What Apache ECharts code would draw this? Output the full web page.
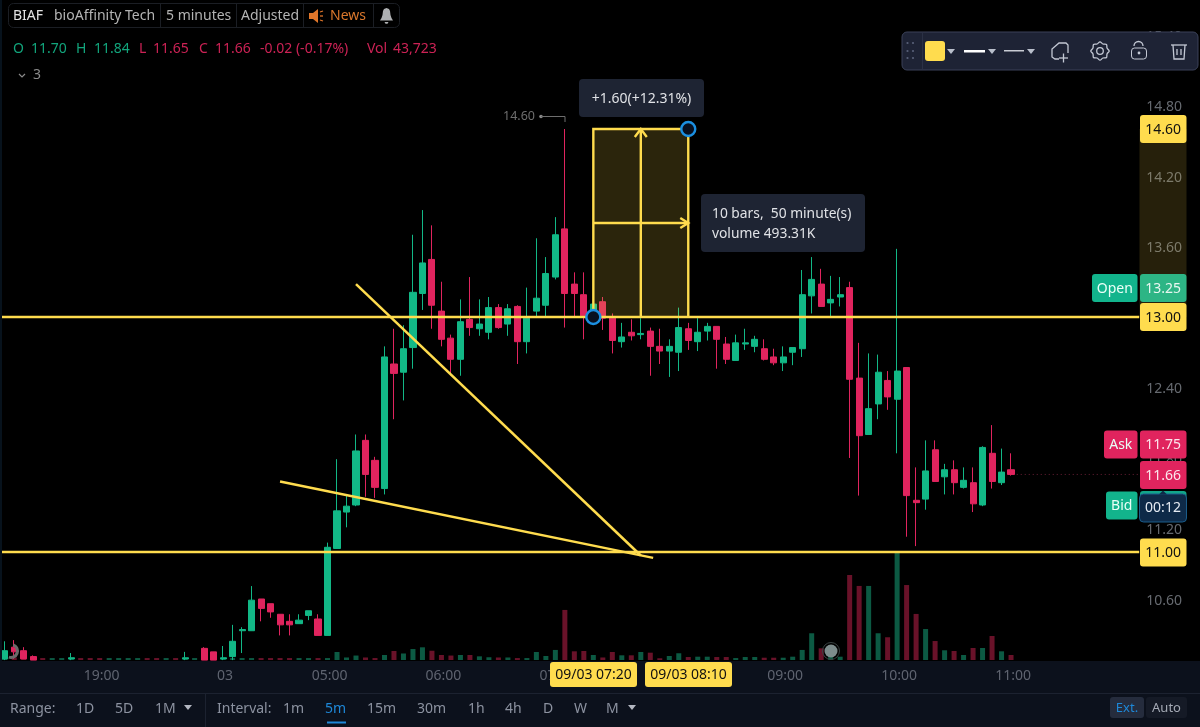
<!DOCTYPE html>
<html>
<head>
<meta charset="utf-8">
<style>html,body{margin:0;padding:0;background:#000}#c{width:1200px;height:727px}</style>
<script src="https://cdn.jsdelivr.net/npm/echarts@6/dist/echarts.min.js"></script>
</head>
<body>
<div id="c"></div>
<script>
// ---- data (index = 5-minute bar) ----
const opens = [
 10.09,10.19,10.16,10.11,null,null,null,10.09,null,null,
 null,null,null,null,null,null,null,null,null,10.09,
 null,10.18,10.15,10.09,10.11,10.33,10.33,10.60,10.56,10.47,
 10.41,10.39,10.46,10.43,10.29,11.03,11.34,11.40,11.95,11.78,
 11.54,12.60,12.53,12.74,13.20,13.49,13.05,12.82,12.64,12.98,
 12.90,12.87,13.08,12.94,13.09,12.79,13.05,13.10,13.34,13.75,
 13.28,13.19,13.00,13.13,12.99,12.79,12.87,12.85,12.88,12.75,
 12.71,12.70,12.90,12.79,12.88,12.92,12.77,12.63,12.77,12.75,
 12.73,12.66,12.61,12.70,12.73,13.18,13.28,13.12,13.17,13.25,
 12.48,12.00,12.26,12.46,12.30,12.57,11.44,11.45,11.87,11.64,
 11.70,11.55,11.59,11.40,11.84,11.59,11.70];
const closes = [
 10.16,10.15,10.09,10.08,null,null,null,10.10,null,null,
 null,null,null,null,null,null,null,null,null,10.10,
 null,10.08,10.08,10.10,10.24,10.34,10.59,10.52,10.49,10.38,
 10.38,10.42,10.50,10.29,11.04,11.35,11.39,11.86,11.66,11.55,
 12.66,12.52,12.73,13.21,13.46,13.10,12.81,12.64,12.96,12.91,
 12.94,13.08,12.91,13.07,12.79,12.99,13.16,13.37,13.70,13.20,
 13.20,13.01,13.11,12.99,12.80,12.83,12.84,12.86,12.75,12.71,
 12.75,12.91,12.80,12.87,12.92,12.81,12.64,12.78,12.78,12.81,
 12.64,12.61,12.66,12.74,13.19,13.32,13.09,13.15,13.19,12.47,
 11.99,12.22,12.53,12.32,12.54,11.48,11.42,11.69,11.60,11.70,
 11.59,11.61,11.41,11.89,11.60,11.68,11.66];
const lows = [
 10.08,10.09,10.09,10.08,null,null,null,10.08,null,null,
 null,null,null,null,null,null,null,null,null,10.08,
 null,10.08,10.08,10.08,10.08,10.14,10.33,10.41,10.44,10.29,
 10.29,10.39,10.42,10.29,10.29,11.03,11.21,11.39,11.47,11.46,
 11.49,12.13,12.29,12.56,13.06,12.90,12.75,12.52,12.50,12.84,
 12.84,12.81,12.90,12.84,12.60,12.69,13.00,13.00,13.32,12.91,
 13.00,12.81,12.98,12.89,12.69,12.74,12.80,12.81,12.50,12.60,
 12.49,12.54,12.72,12.71,12.80,12.56,12.60,12.63,12.72,12.70,
 12.63,12.59,12.54,12.59,12.66,13.03,13.09,13.00,13.09,11.80,
 11.48,12.00,12.13,12.21,11.84,11.13,11.05,11.36,11.60,11.49,
 11.49,11.54,11.34,11.39,11.54,11.57,11.65];
const highs = [
 10.24,10.25,10.19,10.12,null,null,null,10.14,null,null,
 null,null,null,null,null,null,null,null,null,10.15,
 null,10.19,10.15,10.20,10.38,10.36,10.71,10.60,10.56,10.47,
 10.47,10.47,10.50,10.47,11.08,11.79,11.48,12.00,12.00,11.81,
 12.75,12.90,12.93,13.70,13.91,13.78,13.30,12.85,13.15,13.34,
 13.15,13.17,13.11,13.11,13.10,13.25,13.67,13.51,13.85,14.60,
 13.38,13.38,13.11,13.17,13.03,12.95,12.98,12.99,12.91,12.90,
 12.81,13.08,12.95,12.99,12.95,12.92,12.83,12.85,12.90,12.84,
 12.81,12.73,12.75,12.74,13.40,13.51,13.41,13.35,13.34,13.30,
 12.78,12.69,12.68,12.54,13.58,12.57,11.72,11.95,11.95,11.75,
 11.78,11.72,11.72,11.90,12.08,11.88,11.84];
// volume in thousands
const volumes = [
 22,22,22,22,17,17,17,17,17,17,
 17,17,17,17,17,17,17,17,17,17,
 17,22,22,17,17,17,17,17,17,17,
 17,17,17,17,17,70,22,39,22,17,
 44,79,57,96,111,81,44,39,44,44,
 32,24,22,22,17,17,70,35,88,438,
 76,79,44,22,70,41,41,70,64,15,
 35,59,26,29,29,26,26,17,26,26,
 20,20,20,29,88,234,102,105,29,744,
 648,648,234,199,945,656,403,271,166,85,
 79,44,105,105,210,76,44];
const volumeDirs = [
 "u","d","d","d","d","u","u","u","d","d",
 "d","u","u","u","u","d","d","u","d","u",
 "u","d","d","u","u","u","u","d","d","d",
 "d","u","u","d","u","u","u","u","d","d",
 "u","d","u","u","u","d","d","d","u","d",
 "u","u","d","u","d","u","u","u","u","d",
 "d","d","u","d","d","u","d","u","d","d",
 "u","u","d","u","u","d","d","u","u","u",
 "d","d","u","u","u","u","d","u","u","d",
 "d","u","u","d","u","d","d","u","d","u",
 "d","u","d","u","d","u","d"];
const tickLabels = { 10:"19:00", 23:"03", 34:"05:00", 46:"06:00", 58:"07:00", 70:"08:00", 82:"09:00", 94:"10:00", 106:"11:00" };
const priceTicks = [10.6, 11.2, 11.8, 12.4, 13.0, 13.6, 14.2, 14.8, 15.4];
const levels = [13.0, 11.0];
const trendA = [[37, 13.28], [67, 10.97]];
const trendB = [[29, 11.60], [68.3, 10.95]];
const lastPriceLine = [[106.6, 11.66], [119.5, 11.66]];
const measure = [62, 13.0, 72, 14.6];

const BAR_SLOTS = 120;
const YEL = "#FFDC4E", UP = "#12B886", DOWN = "#E0245E", DUP = "#0C5A43", DDOWN = "#691229";
const FONT = '"Noto Sans"';
const categories = Array.from({ length: BAR_SLOTS }, (_, i) => tickLabels[i] || String(i));

const T = (text, x, y, fill, size, align) => ({ type: "text", z: 100, x, y: y + 1,
  style: { text, fill, font: (size || 14) + "px " + FONT, align: align || "left", verticalAlign: "middle" } });
const R = (x, y, width, height, fill, r, stroke, z) => ({ type: "rect", z: z || 100,
  shape: { x, y, width, height, r: r || 0 }, style: { fill, stroke: stroke || null, lineWidth: stroke ? 1 : 0 } });
const L = (points, stroke, lineWidth) => ({ type: "polyline", z: 101, shape: { points },
  style: { stroke, lineWidth: lineWidth || 1.3, fill: null } });
const C = (cx, cy, r, fill, stroke, lineWidth) => ({ type: "circle", z: 101, shape: { cx, cy, r },
  style: { fill: fill || null, stroke: stroke || null, lineWidth: lineWidth || 1 } });
const Tri = (x, y, fill) => ({ type: "polygon", z: 101, shape: { points: [[x - 4, y - 2], [x + 4, y - 2], [x, y + 3]] }, style: { fill } });

const g = [];
// bottom strips
g.push(R(0, 661, 1200, 66, "#0C111C", 0, null, 50));
g.push(R(0, 693, 1200, 1, "#1C2230", 0, null, 51));
g.push(R(205, 694, 1, 33, "#1C2230", 0, null, 51));
g.push(R(0, 0, 2, 661, "#07121C", 0, null, 51));
// header
g.push(R(8.5, 3.5, 391, 24, "#000", 5, "#1B1E24"));
[160, 236, 303, 373].forEach(x => g.push(R(x, 4, 1, 23, "#1B1E24")));
g.push(T("BIAF", 13, 15, "#E3E3E3", 14));
g.push(T("bioAffinity Tech", 54, 15, "#B4B4B4", 14));
g.push(T("5 minutes", 166, 15, "#B4B4B4", 14));
g.push(T("Adjusted", 241, 15, "#B4B4B4", 14));
g.push({ type: "polygon", z: 101, shape: { points: [[309, 13], [313, 13], [318, 9], [318, 23], [313, 19], [309, 19]] }, style: { fill: "#E0762A" } });
g.push(L([[320, 12], [323, 11]], "#E0762A", 1.3), L([[320, 16], [323, 16]], "#E0762A", 1.3), L([[320, 20], [323, 21]], "#E0762A", 1.3));
g.push(T("News", 330, 15, "#D9772C", 14));
g.push({ type: "polygon", z: 101, shape: { points: [[386.5, 8], [384, 9], [383, 11], [382.5, 15], [381.5, 18], [380, 20.5], [393, 20.5], [391.5, 18], [390.5, 15], [390, 11], [389, 9]] }, style: { fill: "#AEB0B2" } });
g.push({ type: "polygon", z: 101, shape: { points: [[384.5, 22], [388.5, 22], [387.5, 23.7], [385.5, 23.7]] }, style: { fill: "#AEB0B2" } });
// OHLC
const ohlc = [["O", 13, UP], ["11.70", 31, UP], ["H", 76, UP], ["11.84", 94, UP], ["L", 139, DOWN], ["11.65", 153, DOWN],
  ["C", 199, DOWN], ["11.66", 215, DOWN], ["-0.02 (-0.17%)", 260, DOWN], ["Vol", 367, DOWN], ["43,723", 393, DOWN]];
ohlc.forEach(o => g.push(T(o[0], o[1], 48.5, o[2] === UP ? "#12A57C" : "#CC2255", 14)));
g.push(L([[19, 74], [22, 77], [25, 74]], "#8A8A8A", 1.2));
g.push(T("3", 33, 74.5, "#8A8A8A", 14));
// toolbar
g.push(R(902, 32, 296, 38, "#1E2335", 5, "#3A4158"));
[907.5, 913].forEach(x => [43, 51, 58].forEach(y => g.push(C(x, y, 1.1, "#59617A"))));
g.push(R(922, 33, 1, 36, "#2B3145"));
g.push(R(925, 41, 20, 20, YEL, 3));
g.push(Tri(951, 51, "#B9BFCC"));
g.push(R(964, 50, 21, 2.5, "#FFFFFF"));
g.push(Tri(992, 51, "#B9BFCC"));
g.push(R(1004, 50, 20, 1.5, "#C9CCD4"));
g.push(Tri(1031, 51, "#B9BFCC"));
g.push(L([[1059, 59], [1055, 59], [1052, 57], [1052, 49], [1059, 43], [1066, 43], [1068, 45], [1068, 53]], "#C3C8D4"));
g.push(L([[1059, 58], [1068, 58]], "#C3C8D4"), L([[1063.5, 53.5], [1063.5, 62.5]], "#C3C8D4"));
// gear outline: alternating radii around the icon centre
const gearPts = [];
for (let k = 0; k < 16; k++) {
  const a = k * Math.PI / 8, rr = k % 2 ? 7.6 : 9.2;
  gearPts.push([1100 + rr * Math.cos(a), 51 + rr * Math.sin(a)]);
}
g.push({ type: "polygon", z: 101, shape: { points: gearPts, smooth: 0.35 }, style: { fill: null, stroke: "#C3C8D4", lineWidth: 1.3 } });
g.push(C(1100, 51, 3.3, null, "#C3C8D4", 1.3));
g.push(R(1131.5, 48, 15, 11, "#1E2335", 3, "#C3C8D4"));
g.push({ type: "arc", z: 101, shape: { cx: 1138.5, cy: 46, r: 4.5, startAngle: Math.PI, endAngle: Math.PI * 2 }, style: { stroke: "#C3C8D4", fill: null, lineWidth: 1.3 } });
g.push(C(1139, 53, 1.4, "#C3C8D4"));
g.push(L([[1171, 45], [1187, 45]], "#C3C8D4"), L([[1173, 45], [1174, 59], [1184, 59], [1185, 45]], "#C3C8D4"));
g.push(L([[1177, 49], [1177, 55]], "#C3C8D4"), L([[1181, 49], [1181, 55]], "#C3C8D4"));
// callouts
g.push(R(579, 79, 125, 38, "#1E2433", 4));
g.push(T("+1.60(+12.31%)", 641.5, 98, "#E0E2E6", 14, "center"));
g.push(R(701, 194, 164, 58, "#1E2433", 4));
g.push(T("10 bars,  50 minute(s)", 712, 213.5, "#E0E2E6", 13.8));
g.push(T("volume 493.31K", 712, 233, "#E0E2E6", 13.8));
// high marker
g.push(T("14.60", 503, 115.5, "#6E6E6E", 12.5));
g.push(C(541, 116.5, 1.8, "#8A8A8A"));
g.push(L([[541, 116.5], [565, 116.5], [565, 122]], "#6E6E6E", 1));
// price tags
const tag = (txt, cy, fill, fg) => {
  g.push(R(1140, cy - 14, 46.5, 28, fill, 3));
  g.push(T(txt, 1163.2, cy, fg, 14, "center"));
};
const pill = (txt, x, cy, fill) => {
  g.push(R(x, cy - 14, 1137.5 - x, 28, fill, 3));
  g.push(T(txt, (x + 1137.5) / 2, cy, "#E9FFF7", 14, "center"));
};
tag("14.60", 129, YEL, "#111");
pill("Open", 1092, 288, "#12B48C"); tag("13.25", 288, "#2DB585", "#E8F6F0");
tag("13.00", 317, YEL, "#111");
pill("Ask", 1104, 444.5, "#E0245E"); tag("11.75", 444.5, "#E0245E", "#FBE6EC");
tag("11.66", 475, "#E0245E", "#FBE6EC");
pill("Bid", 1106, 505.5, "#12B48C");
g.push(R(1140, 491, 46.5, 10, "#12A58A", 3));
g.push(R(1139.5, 494, 47, 28, "#0E2A48", 4, "#1A5C8A"));
g.push({ type: "polygon", z: 101, shape: { points: [[1159, 494.5], [1163, 490.5], [1167, 494.5]] }, style: { fill: "#0E2A48" } });
g.push(T("00:12", 1163, 507.5, "#E4EAF2", 14, "center"));
tag("11.00", 552.5, YEL, "#111");
// time tags
g.push(R(550, 662, 87, 25, YEL, 3)); g.push(T("09/03 07:20", 593.5, 674, "#111", 14, "center"));
g.push(R(645, 662, 87, 25, YEL, 3)); g.push(T("09/03 08:10", 688.5, 674, "#111", 14, "center"));
// bottom controls
const bt = [["Range:", 10], ["1D", 76], ["5D", 115], ["1M", 155], ["Interval:", 217], ["1m", 283], ["15m", 367], ["30m", 417], ["1h", 468], ["4h", 505], ["D", 543], ["W", 574], ["M", 606]];
bt.forEach(b => g.push(T(b[0], b[1], 708, "#8C92A0", 14)));
g.push(T("5m", 325, 708, "#1E88D8", 14));
g.push(R(327, 721.5, 19, 2, "#1E88D8"));
g.push(Tri(188, 707, "#B4B8C2"), Tri(632, 707, "#B4B8C2"));
g.push(R(1110, 697, 34, 21, "#252C3D", 3)); g.push(T("Ext.", 1127, 707, "#1E88D8", 13, "center"));
g.push(R(1146, 697, 41, 21, "#151A26", 3)); g.push(T("Auto", 1166.5, 707, "#A4A9B4", 13, "center"));
// loading spinners
g.push({ type: "arc", z: 101, shape: { cx: 11, cy: 651, r: 6.5, startAngle: -1.2, endAngle: 1.9 }, style: { stroke: "#6A6A6A", fill: null, lineWidth: 3 } });
g.push(C(831, 651, 6.5, "#7D8C8C"));
g.push(C(831, 651, 8.5, null, "#3A4242", 1));

const chart = echarts.init(document.getElementById("c"), null, { renderer: "canvas" });
const GRID_W = 1139.2;
const PRICE_MIN = 10.0723, PRICE_MAX = 15.6979;
const lineSeries = (data, extra) => Object.assign({
  type: "line", xAxisIndex: 2, yAxisIndex: 0, data, symbol: "none", silent: true, animation: false, z: 5,
  lineStyle: { color: YEL, width: 2.5 } }, extra || {});

const measureItem = function (params, api) {
  const x1 = api.value(0), p1 = api.value(1), x2 = api.value(2), p2 = api.value(3);
  const a = api.coord([x1, p1]), b = api.coord([x2, p2]);
  const mx = (a[0] + b[0]) / 2, my = (a[1] + b[1]) / 2;
  const ln = (pts, w) => ({ type: "polyline", shape: { points: pts }, style: { stroke: YEL, lineWidth: w || 2.4, fill: null } });
  const ring = (p) => ({ type: "circle", shape: { cx: p[0], cy: p[1], r: 7 }, style: { fill: "#081020", stroke: "#1B8FE0", lineWidth: 2.4 } });
  return { type: "group", children: [
    { type: "rect", shape: { x: a[0], y: b[1], width: b[0] - a[0], height: a[1] - b[1] }, style: { fill: "rgba(255,217,74,0.17)" } },
    { type: "rect", shape: { x: 1139.5, y: b[1], width: 47, height: a[1] - b[1] }, style: { fill: "rgba(255,217,74,0.15)" } },
    ln([[a[0], a[1]], [a[0], b[1]], [b[0], b[1]], [b[0], a[1]]]),
    ln([[mx, a[1]], [mx, b[1]]]),
    ln([[a[0], my], [b[0], my]]),
    ln([[mx - 6, b[1] + 8], [mx, b[1]], [mx + 6, b[1] + 8]]),
    ln([[b[0] - 8, my - 5], [b[0], my], [b[0] - 8, my + 5]]),
    ring(a), ring(b)
  ] };
};

chart.setOption({
  animation: false,
  backgroundColor: "#000",
  textStyle: { fontFamily: FONT },
  tooltip: { show: false },
  grid: [
    { left: 0, top: 0, width: GRID_W, height: 661 },
    { left: 0, top: 540, width: GRID_W, height: 120 },
    { left: 0, top: 1.6, width: GRID_W, height: 661 }
  ],
  xAxis: [
    { type: "category", gridIndex: 0, data: categories, boundaryGap: true,
      axisLine: { show: false }, axisTick: { show: false }, splitLine: { show: false },
      z: 60,
      axisLabel: { show: true, color: "#5F6470", fontSize: 14, fontFamily: FONT, margin: 8, padding: [0, 0, 0, 4],
        interval: (i) => tickLabels[i] !== undefined,
        formatter: (v) => /:|^03$/.test(v) ? v : "" } },
    { type: "category", gridIndex: 1, data: categories, show: false, boundaryGap: true },
    { type: "value", gridIndex: 0, min: -0.5, max: BAR_SLOTS - 0.5, show: false, splitLine: { show: false } },
    { type: "category", gridIndex: 2, data: categories, show: false }
  ],
  yAxis: [
    { type: "value", gridIndex: 0, position: "right", min: PRICE_MIN, max: PRICE_MAX,
      axisLine: { show: false }, axisTick: { show: false }, splitLine: { show: false }, axisLabel: { show: false } },
    { type: "value", gridIndex: 1, min: 0, max: 1050, show: false, splitLine: { show: false } },
    { type: "value", gridIndex: 2, position: "right", min: PRICE_MIN, max: PRICE_MAX,
      axisLine: { show: false }, axisTick: { show: false }, splitLine: { show: false },
      axisLabel: { color: "#666A70", fontSize: 14, fontFamily: FONT, margin: 7, customValues: priceTicks,
        formatter: (v) => v.toFixed(2) } }
  ],
  series: [
    { type: "bar", xAxisIndex: 1, yAxisIndex: 1, barWidth: 5, z: 1, silent: true,
      data: volumes.map((v, i) => ({ value: v, itemStyle: { color: volumeDirs[i] === "u" ? DUP : DDOWN } })) },
    { type: "candlestick", xAxisIndex: 0, yAxisIndex: 0, barWidth: 6.6, z: 2, silent: true,
      itemStyle: { color: UP, color0: DOWN, borderColor: UP, borderColor0: DOWN, borderWidth: 1 },
      data: opens.map((o, i) => o === null ? ["-", "-", "-", "-"] : [o, closes[i], lows[i], highs[i]]) },
    lineSeries(lastPriceLine, { lineStyle: { color: "#6A1F36", width: 1, type: [1, 3] } }),
    ...levels.map(v => lineSeries([[-0.5, v], [BAR_SLOTS - 0.5, v]])),
    lineSeries(trendA), lineSeries(trendB),
    { type: "custom", xAxisIndex: 2, yAxisIndex: 0, z: 6, silent: true, clip: false,
      data: [measure], renderItem: measureItem }
  ],
  graphic: { elements: g }
});
</script>
</body>
</html>
